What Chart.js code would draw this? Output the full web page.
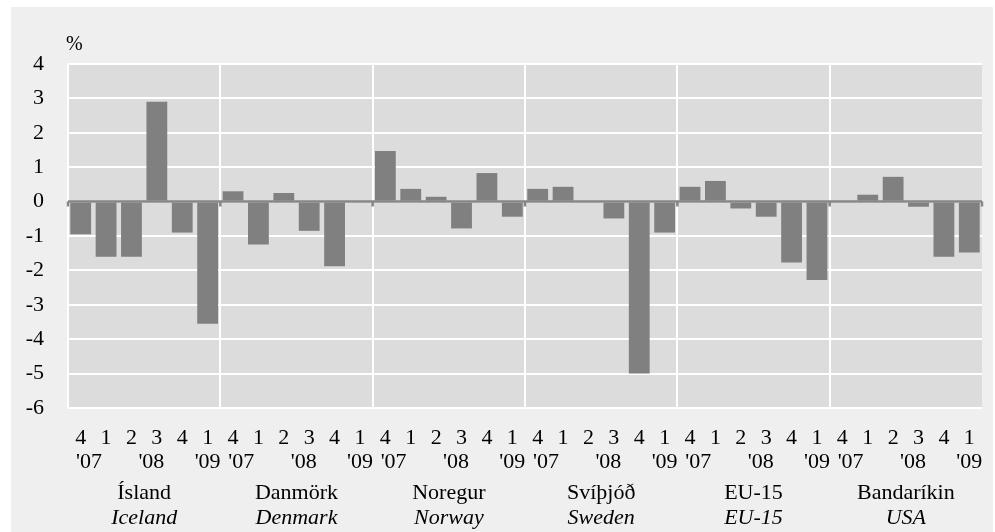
<!DOCTYPE html>
<html>
<head>
<meta charset="utf-8">
<script src="https://cdn.jsdelivr.net/npm/chart.js@4/dist/chart.umd.min.js"></script>
<style>
  body { margin: 0; background: #fff; }
  #wrap { position: absolute; left: 11px; top: 7px; width: 982px; height: 525px; background: #efefef; }
</style>
</head>
<body>
<div id="wrap"><canvas id="grafico"></canvas></div>
<script>
// Hagvöxtur á ársfjórðungi, %
const lond = ["Ísland", "Danmörk", "Noregur", "Svíþjóð", "EU-15", "Bandaríkin"];
const countries = ["Iceland", "Denmark", "Norway", "Sweden", "EU-15", "USA"];
const fjordungar = ["4", "1", "2", "3", "4", "1"];
const ar = ["'07", "", "", "'08", "", "'09"];
const yTicks = [4, 3, 2, 1, 0, -1, -2, -3, -4, -5, -6];

const island = [-0.95, -1.6, -1.6, 2.9, -0.9, -3.55];
const danmork = [0.3, -1.25, 0.25, -0.85, -1.88, null];
const noregur = [1.47, 0.37, 0.14, -0.78, 0.83, -0.44];
const svithjod = [0.37, 0.43, null, -0.49, -5.0, -0.9];
const eu15 = [0.43, 0.6, -0.2, -0.44, -1.77, -2.28];
const usa = [null, 0.2, 0.72, -0.15, -1.6, -1.48];

const labels = [];
lond.forEach(() => fjordungar.forEach((q, i) => labels.push([q, ar[i]])));
const gildi = [].concat(island, danmork, noregur, svithjod, eu15, usa);

const serif = "'Liberation Serif', 'Times New Roman', serif";

// ártal: fyrsta aðeins til hægri, '08 aðeins til vinstri, eins og í Excel
function arMerki(i) {
    const a = ar[i % 6];
    if (i % 6 === 0) return "   " + a;
    if (i % 6 === 3) return a + "  ";
    return a;
}

const bakgrunnur = {
    id: "bakgrunnur",
    beforeDraw(chart) {
        const a = chart.chartArea, c = chart.ctx;
        c.save();
        c.fillStyle = "#dcdcdc";
        c.fillRect(a.left, a.top, a.right - a.left, a.bottom - a.top);
        c.restore();
    }
};

const nulllina = {
    id: "nulllina",
    afterDatasetsDraw(chart) {
        const a = chart.chartArea, c = chart.ctx;
        const x = chart.scales.x, y = chart.scales.y;
        const y0 = y.getPixelForValue(0);
        c.save();
        c.strokeStyle = "#868686";
        c.lineWidth = 2.5;
        c.beginPath();
        c.moveTo(a.left, y0);
        c.lineTo(a.right, y0);
        for (let g = 0; g <= lond.length; g++) {
            const px = x.getPixelForValue(g * 6 - 0.5);
            c.moveTo(px, y0);
            c.lineTo(px, y0 + 5);
        }
        c.stroke();
        c.restore();
    }
};

const textar = {
    id: "textar",
    afterDraw(chart) {
        const a = chart.chartArea, c = chart.ctx, x = chart.scales.x;
        c.save();
        c.fillStyle = "#000";
        c.textBaseline = "middle";
        c.textAlign = "left";
        c.font = "20px " + serif;
        c.fillText("%", a.left - 2, a.top - 19);
        c.textAlign = "center";
        lond.forEach((nafn, g) => {
            const cx = (x.getPixelForTick(g * 6) + x.getPixelForTick(g * 6 + 5)) / 2;
            c.font = "22px " + serif;
            c.fillText(nafn, cx, a.bottom + 85);
            c.font = "italic 22px " + serif;
            c.fillText(countries[g], cx, a.bottom + 110);
        });
        c.restore();
    }
};

var ctx = document.getElementById("grafico").getContext("2d");
var myChart = new Chart(ctx, {
    type: "bar",
    data: {
        labels: labels,
        datasets: [{
            data: gildi,
            backgroundColor: "#808080",
            barPercentage: 0.82,
            categoryPercentage: 1
        }]
    },
    options: {
        responsive: true,
        maintainAspectRatio: false,
        animation: false,
        layout: { padding: { top: 57, right: 11, left: 0, bottom: 0 } },
        plugins: { legend: { display: false }, tooltip: { enabled: false } },
        scales: {
            x: {
                afterFit(scale) {
                    scale.height = 124;
                    scale.paddingLeft = 0;
                    scale.paddingRight = 0;
                },
                border: { display: false },
                grid: {
                    offset: true,
                    drawTicks: false,
                    lineWidth: 2,
                    color: (c) => c.index % 6 === 0 ? "#ffffff" : "rgba(0,0,0,0)"
                },
                ticks: {
                    autoSkip: false,
                    maxRotation: 0,
                    padding: 18,
                    color: "#000",
                    font: { family: serif, size: 22, lineHeight: 1.1 },
                    callback: (v, i) => [fjordungar[i % 6], arMerki(i)]
                }
            },
            y: {
                min: -6,
                max: 4,
                afterFit(scale) { scale.width = 57; },
                afterBuildTicks(scale) { scale.ticks = yTicks.map(v => ({ value: v })); },
                border: { display: false },
                grid: { drawTicks: false, lineWidth: 2, color: "#ffffff" },
                ticks: {
                    padding: 24,
                    color: "#000",
                    font: { family: serif, size: 22 }
                }
            }
        }
    },
    plugins: [bakgrunnur, nulllina, textar]
});
</script>
</body>
</html>
